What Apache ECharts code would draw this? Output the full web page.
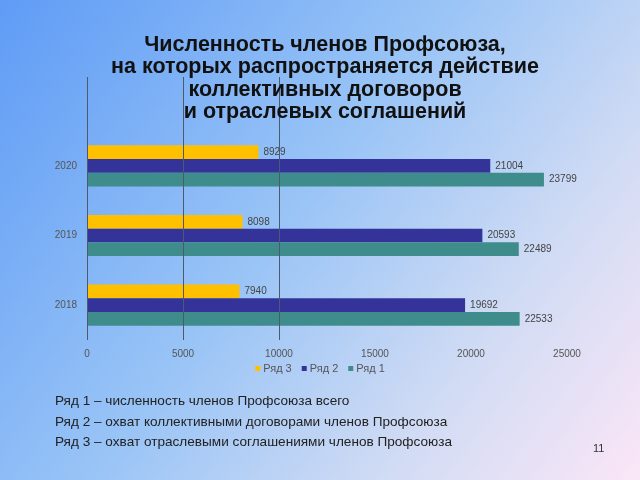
<!DOCTYPE html>
<html>
<head>
<meta charset="utf-8">
<script src="https://cdn.jsdelivr.net/npm/echarts@6/dist/echarts.min.js"></script>
<style>html,body{margin:0;padding:0;}#c{width:640px;height:480px;}</style>
</head>
<body>
<div id="c"></div>
<script>
const categories = ['2018', '2019', '2020'];
const seriesNames = ['Ряд 3', 'Ряд 2', 'Ряд 1'];
const row3 = [7940, 8098, 8929];
const row2 = [19692, 20593, 21004];
const row1 = [22533, 22489, 23799];
const xTicks = [0, 5000, 10000, 15000, 20000, 25000];
const tallLineValues = [0, 5000, 10000];
const titleLines = ['Численность членов Профсоюза,', 'на которых распространяется действие', 'коллективных договоров', 'и отраслевых соглашений'];
const notes = [
  'Ряд 1 – численность членов Профсоюза всего',
  'Ряд 2 – охват коллективными договорами членов Профсоюза',
  'Ряд 3 – охват отраслевыми соглашениями членов Профсоюза'
];
const pageNumber = '11';

const colors = ['#ffc000', '#333399', '#3f8c8c'];
const FONT = '"Liberation Sans", Arial, sans-serif';

const chart = echarts.init(document.getElementById('c'));
const values = [row3, row2, row1];

const barSeries = seriesNames.map((n, i) => ({
  name: n,
  type: 'bar',
  xAxisIndex: 0,
  yAxisIndex: 0,
  data: values[i],
  barGap: '0%',
  barCategoryGap: '41%',
  itemStyle: { color: colors[i] },
  label: { show: true, position: 'right', distance: 5, color: '#444', fontSize: 10, fontFamily: FONT },
  z: 3
}));

const option = {
  backgroundColor: {
    type: 'linear', x: 0, y: 0, x2: 1, y2: 1,
    colorStops: [
      { offset: 0, color: '#5f9cf6' },
      { offset: 0.45, color: '#99c4f6' },
      { offset: 0.75, color: '#d2dcf4' },
      { offset: 1, color: '#fbe6f7' }
    ]
  },
  animation: false,
  title: [
    {
      text: titleLines.join('\n'),
      left: 320, top: 29,
      textAlign: 'center',
      textStyle: { fontFamily: FONT, fontWeight: 'bold', fontSize: 21.5, lineHeight: 22.3, color: '#111' }
    },
    {
      text: notes.join('\n'),
      left: 50, top: 386,
      textStyle: { fontFamily: FONT, fontWeight: 'normal', fontSize: 13.6, lineHeight: 20.5, color: '#222' }
    },
    {
      text: pageNumber,
      left: 588, top: 438,
      textStyle: { fontFamily: FONT, fontWeight: 'normal', fontSize: 11, color: '#333' }
    }
  ],
  legend: {
    data: ['Ряд 3', 'Ряд 2', 'Ряд 1'],
    left: 'center', top: 358,
    itemWidth: 5, itemHeight: 5, itemGap: 10,
    icon: 'rect',
    textStyle: { fontFamily: FONT, fontSize: 11, color: '#555', padding: [0, 0, 0, -2] }
  },
  grid: [
    { left: 87, right: 73, top: 131, bottom: 140 },
    { left: 87, right: 73, top: 77, bottom: 140 }
  ],
  xAxis: [
    {
      gridIndex: 0, type: 'value', min: xTicks[0], max: xTicks[xTicks.length - 1], interval: 5000,
      axisLine: { show: false }, axisTick: { show: false },
      splitLine: { show: false },
      axisLabel: { color: '#555', fontSize: 10, fontFamily: FONT, margin: 9, formatter: v => String(v) }
    },
    {
      gridIndex: 1, type: 'value', min: xTicks[0], max: xTicks[xTicks.length - 1],
      show: false
    }
  ],
  yAxis: [
    {
      gridIndex: 0, type: 'category', data: categories,
      axisLine: { show: false }, axisTick: { show: false },
      axisLabel: { color: '#555', fontSize: 10, fontFamily: FONT, margin: 10 }
    },
    {
      gridIndex: 1, type: 'value', min: 0, max: 1, show: false
    }
  ],
  series: barSeries.concat([{
    type: 'line',
    xAxisIndex: 1, yAxisIndex: 1,
    data: [],
    silent: true,
    markLine: {
      silent: true,
      symbol: 'none',
      label: { show: false },
      lineStyle: { color: '#4d5a6e', width: 1, type: 'solid' },
      data: tallLineValues.map(v => ({ xAxis: v }))
    },
    z: 1
  }])
};
chart.setOption(option);
</script>
</body>
</html>
